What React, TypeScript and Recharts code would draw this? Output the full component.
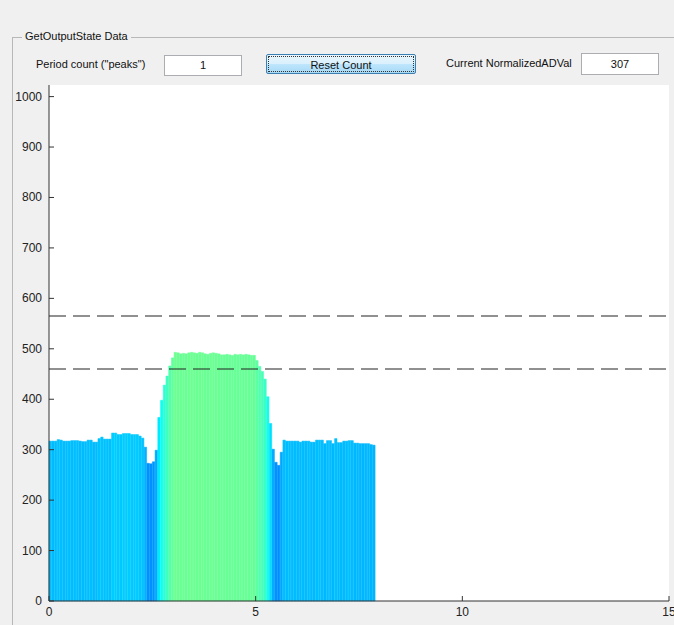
import React from "react";
import { ComposedChart, Bar, Cell, XAxis, YAxis, ReferenceLine, CartesianGrid } from "recharts";

// one ADC sample every SAMPLE_PERIOD seconds, starting at t = 0
const SAMPLE_PERIOD = 0.0658;

// normalized AD values
const AD_VALUES = [
  317, 317, 317, 320, 319, 317, 317, 317, 318, 318,
  318, 317, 316, 316, 319, 319, 315, 315, 322, 325,
  321, 321, 321, 333, 333, 330, 330, 332, 332, 332,
  330, 330, 330, 327, 323, 305, 273, 272, 276, 299,
  364, 398, 428, 446, 466, 482, 493, 492, 490, 491,
  490, 492, 493, 492, 491, 493, 492, 490, 489, 491,
  492, 491, 490, 488, 488, 489, 488, 487, 489, 488,
  489, 488, 489, 488, 487, 487, 477, 465, 455, 440,
  405, 352, 301, 275, 269, 295, 319, 317, 317, 317,
  317, 317, 315, 317, 317, 317, 315, 315, 319, 319,
  319, 312, 318, 318, 312, 322, 314, 314, 317, 317,
  318, 318, 313, 313, 312, 312, 312, 312, 310, 309,
];

const UPPER_THRESHOLD = 565;
const LOWER_THRESHOLD = 460;
const Y_MAX = 1023;
const Y_TICKS = [0, 100, 200, 300, 400, 500, 600, 700, 800, 900, 1000];
const X_TICKS = [0, 5, 10, 15];

const PERIOD_COUNT = "1";
const CURRENT_VALUE = "307";

// matlab "jet" colormap, value scaled by full ADC range
function jet(v: number): string {
  const t = v / Y_MAX;
  const c = (x: number) => Math.round(255 * Math.max(0, Math.min(1, x)));
  const r = c(Math.min(4 * t - 1.5, -4 * t + 4.5));
  const g = c(Math.min(4 * t - 0.5, -4 * t + 3.5));
  const b = c(Math.min(4 * t + 0.5, -4 * t + 2.5));
  return `rgb(${r},${g},${b})`;
}

const data = AD_VALUES.map((v, i) => ({ t: (i + 0.5) * SAMPLE_PERIOD, v }));

const FONT = "'Liberation Sans', Arial, sans-serif";
const AXIS = "#333";

const YTick = (p: any) => (
  <g>
    <line x1={p.x + 7} x2={p.x + 12} y1={p.y} y2={p.y} stroke={AXIS} />
    <text x={p.x} y={p.y + 4} textAnchor="end" fontSize={12} fill="#222" fontFamily={FONT}>
      {p.payload.value}
    </text>
  </g>
);

const XTick = (p: any) => (
  <g>
    <line x1={p.x} x2={p.x} y1={p.y} y2={p.y - 5} stroke={AXIS} />
    <text x={p.x} y={p.y + 15} textAnchor="middle" fontSize={12} fill="#222" fontFamily={FONT}>
      {p.payload.value}
    </text>
  </g>
);

const box: React.CSSProperties = {
  position: "absolute",
  background: "#fff",
  border: "1px solid #abadb3",
  boxSizing: "border-box",
  textAlign: "center",
  fontSize: 11,
};

export default function App() {
  return (
    <div
      style={{
        position: "absolute", left: 0, top: 0, width: 674, height: 625,
        background: "#f0f0f0", overflow: "hidden", fontFamily: FONT, color: "#111",
      }}
    >
      {/* group box frame */}
      <div style={{ position: "absolute", left: 12, top: 37, width: 700, height: 700, border: "1px solid #b8b8b8" }} />
      <div style={{ position: "absolute", left: 22, top: 30, padding: "0 3px", background: "#f0f0f0", fontSize: 11 }}>
        GetOutputState Data
      </div>

      <div style={{ position: "absolute", left: 36, top: 58, fontSize: 11 }}>Period count ("peaks")</div>
      <div style={{ ...box, left: 164, top: 55, width: 78, height: 21, lineHeight: "19px" }}>{PERIOD_COUNT}</div>
      <div
        style={{
          position: "absolute", left: 266, top: 54, width: 150, height: 20, boxSizing: "border-box",
          border: "1px solid #3c7fb1", borderRadius: 2,
          background: "linear-gradient(#eaf6fd, #d9f0fc 50%, #bee6fd 51%, #a7d9f5)",
          fontSize: 11, textAlign: "center", lineHeight: "16px",
        }}
      >
        <div style={{ margin: 1, border: "1px dotted #333", height: 14 }}>Reset Count</div>
      </div>
      <div style={{ position: "absolute", left: 446, top: 57, fontSize: 11 }}>Current NormalizedADVal</div>
      <div style={{ ...box, left: 581, top: 53, width: 78, height: 22, lineHeight: "20px" }}>{CURRENT_VALUE}</div>

      <div style={{ position: "absolute", left: 0, top: 0 }}>
        <ComposedChart
          width={674}
          height={625}
          data={data}
          margin={{ top: 85, right: 5, bottom: 0, left: 9 }}
          barGap={0}
          barCategoryGap={0}
        >
          <CartesianGrid horizontal={false} vertical={false} fill="#ffffff" stroke="none" />
          <XAxis
            dataKey="t"
            type="number"
            domain={[0, 15]}
            ticks={X_TICKS}
            height={24}
            tickSize={0}
            tickMargin={0}
            tick={<XTick />}
            axisLine={{ stroke: AXIS }}
            tickLine={false}
            interval={0}
          />
          <YAxis
            type="number"
            domain={[0, Y_MAX]}
            ticks={Y_TICKS}
            width={40}
            tickSize={0}
            tickMargin={7}
            tick={<YTick />}
            axisLine={{ stroke: AXIS }}
            tickLine={false}
            interval={0}
          />
          <Bar dataKey="v" barSize={2.72} isAnimationActive={false}>
            {data.map((d, i) => (
              <Cell key={i} fill={jet(d.v)} stroke={jet(d.v)} strokeWidth={0.5} />
            ))}
          </Bar>
          <ReferenceLine y={UPPER_THRESHOLD} stroke="#222" strokeWidth={1.1} strokeDasharray="17 7" />
          <ReferenceLine y={LOWER_THRESHOLD} stroke="#222" strokeWidth={1.1} strokeDasharray="17 7" />
        </ComposedChart>
      </div>
    </div>
  );
}
